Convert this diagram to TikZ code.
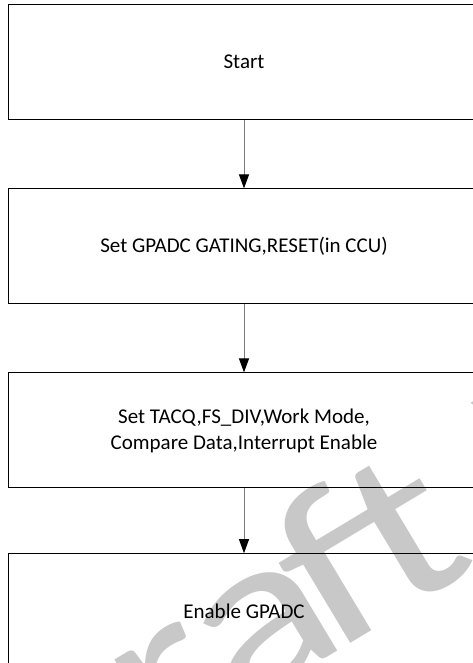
\documentclass[tikz,border=0pt]{standalone}
\usepackage{fontspec}
\setmainfont{Carlito}
\usetikzlibrary{arrows.meta}
\definecolor{wmgray}{RGB}{200,200,200}
\definecolor{arrowgray}{RGB}{125,125,125}
\begin{document}
\begin{tikzpicture}[x=1pt,y=-1pt,
  flowbox/.style={draw=black, line width=1pt, minimum width=471.4pt, minimum height=115pt,
    align=center, inner sep=0pt, font=\fontsize{21}{26}\selectfont},
  flowarrow/.style={draw=arrowgray, line width=1pt,
    -{Triangle[length=14pt,width=10pt,color=black,fill=black]}},
  watermark/.style={text=wmgray, font=\fontsize{225}{225}\selectfont,
    anchor=base west, inner sep=0pt, transform shape}]
\useasboundingbox (0,0) rectangle (473,663);
\clip (0,0) rectangle (473,663);
\begin{scope}[shift={(4,852)}, rotate=31, xscale=1.27]
  \node[watermark] (wm) at (0,0) {Dra\kern-0.09em ft\kern0.03em{} V};
\end{scope}
\node[flowbox] (b1) at (244,61.75) {Start};
\node[flowbox] (b2) at (244,246.4) {Set GPADC GATING,RESET(in CCU)};
\node[flowbox] (b3) at (244,430.4) {Set TACQ,FS\_DIV,Work Mode,\\Compare Data,Interrupt Enable};
\node[flowbox] (b4) at (244,611.2) {Enable GPADC};
\draw[flowarrow] (b1) -- (b2);
\draw[flowarrow] (b2) -- (b3);
\draw[flowarrow] (b3) -- (b4);
\end{tikzpicture}
\end{document}
